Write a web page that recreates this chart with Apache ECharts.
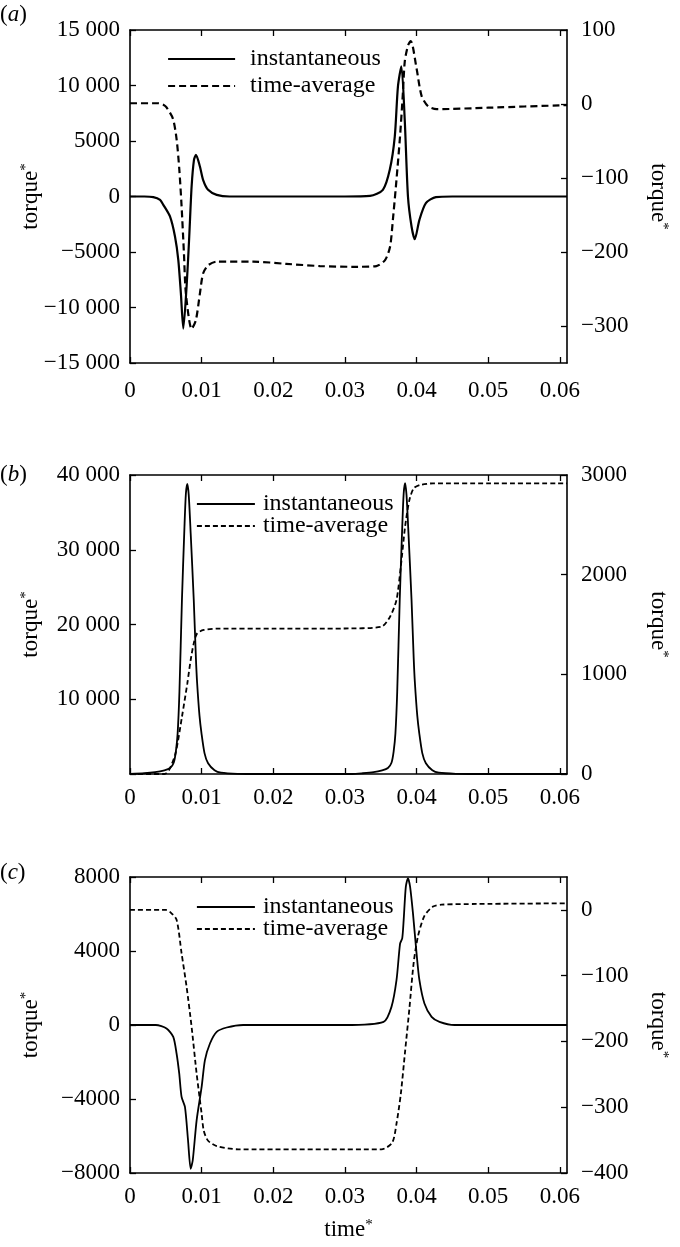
<!DOCTYPE html>
<html><head><meta charset="utf-8">
<script src="https://cdn.jsdelivr.net/npm/echarts@6.0.0/dist/echarts.min.js"></script>
<style>html,body{margin:0;padding:0;background:#fff}#c{width:680px;height:1247px}</style>
</head><body><div id="c"></div>
<script>
// ---- data: [time*, torque*] ----
const seriesNames = ['instantaneous', 'time-average'];
const timeTicks = [0, 0.01, 0.02, 0.03, 0.04, 0.05, 0.06];

// panel (a)
const aInst = [[0,0],[0.002,0],[0.00325,-50],[0.0042,-300],[0.00465,-750],[0.00558,-1800],[0.00628,-3600],[0.00674,-5700],[0.0071,-8700],[0.00744,-11900],[0.0079,-8100],[0.00827,-3600],[0.0086,900],[0.00893,3300],[0.00921,3760],[0.00976,2700],[0.0102,1500],[0.0109,600],[0.0121,150],[0.0139,0],[0.02,0],[0.03,0],[0.0335,50],[0.0353,600],[0.03626,2400],[0.03696,5400],[0.0374,9900],[0.03788,11730],[0.03835,6900],[0.0388,0],[0.0393,-2700],[0.03975,-3850],[0.0404,-2100],[0.0413,-600],[0.0427,-50],[0.045,0],[0.061,0]];
const aAvg = [[0,1],[0.004,1],[0.00465,-1],[0.0051,-4.5],[0.006,-20],[0.00651,-48],[0.00688,-88],[0.0072,-138],[0.00753,-202],[0.0078,-256],[0.0086,-304],[0.0092,-292],[0.00976,-256],[0.0102,-229],[0.0109,-218],[0.0121,-213],[0.0172,-213],[0.0218,-216],[0.0265,-219],[0.0311,-220],[0.0344,-219],[0.0356,-211],[0.0363,-193],[0.0367,-156],[0.0372,-102],[0.0377,-43],[0.0381,16],[0.03835,57],[0.0388,79],[0.0392,85],[0.04,48],[0.0407,11],[0.0416,-3],[0.0428,-7],[0.05,-5],[0.061,-1.5]];

// panel (b)
const bInst = [[0,0],[0.002,100],[0.0035,250],[0.0048,500],[0.0056,800],[0.0061,1500],[0.0064,3000],[0.00665,5440],[0.0069,11000],[0.00725,23280],[0.0076,33000],[0.0078,37500],[0.008,38800],[0.0082,37300],[0.00847,32200],[0.0089,23280],[0.0092,15500],[0.00937,12170],[0.0097,7800],[0.00998,5440],[0.0104,2800],[0.0109,1430],[0.0118,500],[0.0127,170],[0.015,30],[0.02,0],[0.031,0],[0.0325,100],[0.034,250],[0.0352,500],[0.036,800],[0.0365,1500],[0.0368,3000],[0.03705,5440],[0.0373,11000],[0.03765,23280],[0.038,33000],[0.0382,37500],[0.0384,38900],[0.0386,37300],[0.03887,32200],[0.0393,23280],[0.0396,15500],[0.03977,12170],[0.0401,7800],[0.04038,5440],[0.0408,2800],[0.0413,1430],[0.0422,500],[0.0431,170],[0.0455,30],[0.05,0],[0.061,0]];
const bAvg = [[0,0],[0.0048,0],[0.00545,40],[0.00636,208],[0.00725,573],[0.008,908],[0.00847,1144],[0.0089,1311],[0.00937,1411],[0.0103,1445],[0.0121,1458],[0.02,1458],[0.03,1460],[0.0351,1478],[0.0363,1578],[0.0372,1746],[0.0378,2080],[0.0384,2481],[0.039,2749],[0.0396,2866],[0.0405,2900],[0.0423,2916],[0.05,2916],[0.061,2916]];

// panel (c)
const cInst = [[0,0],[0.0036,0],[0.0051,-190],[0.00604,-640],[0.0065,-1540],[0.00687,-2620],[0.0072,-3890],[0.00767,-4430],[0.0081,-6230],[0.00847,-7770],[0.00876,-7310],[0.0093,-5150],[0.01,-3350],[0.01046,-1900],[0.01116,-1000],[0.0121,-370],[0.01349,-135],[0.0158,0],[0.03,0],[0.0354,170],[0.0365,980],[0.0372,2420],[0.0377,4400],[0.038,4680],[0.0382,5670],[0.0385,7470],[0.0388,7930],[0.0391,7470],[0.0395,6030],[0.04,3870],[0.0404,2420],[0.0411,1160],[0.0421,440],[0.0432,170],[0.0453,0],[0.061,0]];
const cAvg = [[0,0],[0.005,0],[0.00558,-3],[0.0065,-15],[0.0072,-66],[0.0079,-117],[0.0086,-178],[0.0093,-249],[0.01,-310],[0.0103,-336],[0.0109,-351],[0.0121,-359],[0.0151,-364],[0.0351,-364],[0.0366,-354],[0.0372,-325],[0.0378,-280],[0.0384,-215],[0.039,-150],[0.0396,-80],[0.0402,-40],[0.0411,-9],[0.0423,5],[0.0435,8],[0.0484,9],[0.061,10]];

// axis ticks
const aLeftTicks = [-15000, -10000, -5000, 0, 5000, 10000, 15000];
const aRightTicks = [-300, -200, -100, 0, 100];
const bLeftTicks = [0, 10000, 20000, 30000, 40000];
const bRightTicks = [0, 1000, 2000, 3000];
const cLeftTicks = [-8000, -4000, 0, 4000, 8000];
const cRightTicks = [-400, -300, -200, -100, 0];

// ---- chart ----
const FONT = 'Liberation Serif';
const FS = 23;
function fmtNum(v) {
  const a = Math.abs(v);
  let s = a >= 10000 ? (Math.floor(a / 1000) + ' ' + String(a % 1000).padStart(3, '0')) : String(a);
  return (v < 0 ? '\u2212' : '') + s;
}
const nameRich = {
  t: { fontFamily: FONT, fontSize: FS, color: '#000' },
  s: { fontFamily: FONT, fontSize: 15, color: '#000', verticalAlign: 'top', padding: [0, 0, 6, 0] }
};
const near = (v, arr) => arr.some(t => Math.abs(t - v) < 1e-9 * Math.max(1, Math.abs(t)));

const panels = [
  { tag: 'a', top: 30, height: 333, inst: aInst, avg: aAvg, l: [-15000, 15000, 5000], lT: aLeftTicks, r: [-350, 100, 50], rT: aRightTicks,
    hideL0: false, legTop: 47, legLeft: 167, legW: 67, legPad: 10, gap: 3, dash: [7, 4], lw: 2.2, tagY: 15, xm: 16 },
  { tag: 'b', top: 475, height: 299, inst: bInst, avg: bAvg, l: [0, 40000, 10000], lT: bLeftTicks, r: [0, 3000, 1000], rT: bRightTicks,
    hideL0: true, legTop: 492, legLeft: 196, legW: 58, legPad: 3, gap: -2, dash: [5, 3], lw: 1.8, tagY: 475, xm: 12 },
  { tag: 'c', top: 877, height: 296, inst: cInst, avg: cAvg, l: [-8000, 8000, 4000], lT: cLeftTicks, r: [-400, 50, 50], rT: cRightTicks,
    hideL0: false, legTop: 895, legLeft: 196, legW: 58, legPad: 3, gap: -2, dash: [5, 3], lw: 1.8, tagY: 873, xm: 12 }
];

const grid = [], xAxis = [], yAxis = [], series = [], legend = [], graphic = [];
const axisLine = { show: true, onZero: false, lineStyle: { color: '#000', width: 1.6 } };
const tick = { show: true, inside: true, length: 6, lineStyle: { color: '#000', width: 1.3 } };
const lbl = { color: '#000', fontFamily: FONT, fontSize: FS };

panels.forEach((p, i) => {
  grid.push({ left: 130, width: 437, top: p.top, height: p.height, containLabel: false });
  xAxis.push({
    type: 'value', gridIndex: i, position: 'bottom', min: 0, max: 0.061, interval: 0.01,
    axisLine, axisTick: Object.assign({}, tick, { customValues: timeTicks }), splitLine: { show: false },
    axisLabel: Object.assign({}, lbl, { margin: p.xm, showMaxLabel: false,
      formatter: v => near(v, timeTicks) ? (v === 0 ? '0' : v.toFixed(2)) : '' }),
    name: i === 2 ? '{t|time}{s|*}' : '', nameLocation: 'middle', nameGap: 45, nameMoveOverlap: false,
    nameTextStyle: { fontFamily: FONT, fontSize: FS, rich: nameRich }
  });
  xAxis.push({
    type: 'value', gridIndex: i, position: 'top', min: 0, max: 0.061, interval: 0.01,
    axisLine, axisTick: Object.assign({}, tick, { customValues: timeTicks }), splitLine: { show: false },
    axisLabel: { show: false }
  });
  yAxis.push({
    type: 'value', gridIndex: i, position: 'left', min: p.l[0], max: p.l[1], interval: p.l[2],
    axisLine, axisTick: Object.assign({}, tick, { customValues: p.lT }), splitLine: { show: false },
    axisLabel: Object.assign({}, lbl, { margin: 10,
      formatter: v => (!near(v, p.lT) || (p.hideL0 && v === 0)) ? '' : fmtNum(v) }),
    name: '{t|torque}{s|*}', nameLocation: 'middle', nameGap: 88, nameRotate: 90, nameMoveOverlap: false,
    nameTextStyle: { fontFamily: FONT, fontSize: FS, rich: nameRich }
  });
  yAxis.push({
    type: 'value', gridIndex: i, position: 'right', min: p.r[0], max: p.r[1], interval: p.r[2],
    axisLine, axisTick: Object.assign({}, tick, { customValues: p.rT }), splitLine: { show: false },
    axisLabel: Object.assign({}, lbl, { margin: 14, showMaxLabel: i !== 2,
      formatter: v => near(v, p.rT) ? fmtNum(v) : '' }),
    name: '{t|torque}{s|*}', nameLocation: 'middle', nameGap: 80, nameRotate: -90, nameMoveOverlap: false,
    nameTextStyle: { fontFamily: FONT, fontSize: FS, rich: nameRich }
  });
  series.push({
    name: seriesNames[0], type: 'line', xAxisIndex: 2 * i, yAxisIndex: 2 * i, data: p.inst,
    symbol: 'none', showSymbol: false, smooth: 0.25, lineStyle: { color: '#000', width: p.lw, type: 'solid' }, itemStyle: { color: '#000' }, z: 3
  });
  series.push({
    name: seriesNames[1], type: 'line', xAxisIndex: 2 * i, yAxisIndex: 2 * i + 1, data: p.avg,
    symbol: 'none', showSymbol: false, smooth: 0.25, lineStyle: { color: '#000', width: p.lw, type: p.dash }, itemStyle: { color: '#000' }, z: 2
  });
  legend.push({
    orient: 'vertical', left: p.legLeft, top: p.legTop, padding: 0, itemWidth: p.legW, itemHeight: 14, itemGap: p.gap,
    selectedMode: false,
    itemStyle: { color: 'rgba(0,0,0,0)', borderWidth: 0, opacity: 0 },
    textStyle: { color: '#000', fontFamily: FONT, fontSize: 24, padding: [0, 0, 0, p.legPad] },
    data: [
      { name: seriesNames[0], lineStyle: { color: '#000', width: p.lw, type: 'solid' } },
      { name: seriesNames[1], lineStyle: { color: '#000', width: p.lw, type: p.dash } }
    ]
  });
  graphic.push({
    type: 'text', left: 0, top: p.tagY - 12,
    style: { text: '({i|' + p.tag + '})', fontFamily: FONT, fontSize: FS, fill: '#000',
      rich: { i: { fontFamily: FONT, fontSize: FS, fontStyle: 'italic', color: '#000' } } }
  });
});

const chart = echarts.init(document.getElementById('c'), null, { renderer: 'canvas' });
chart.setOption({ animation: false, backgroundColor: '#fff', grid, xAxis, yAxis, series, legend, graphic });
</script>
</body></html>
